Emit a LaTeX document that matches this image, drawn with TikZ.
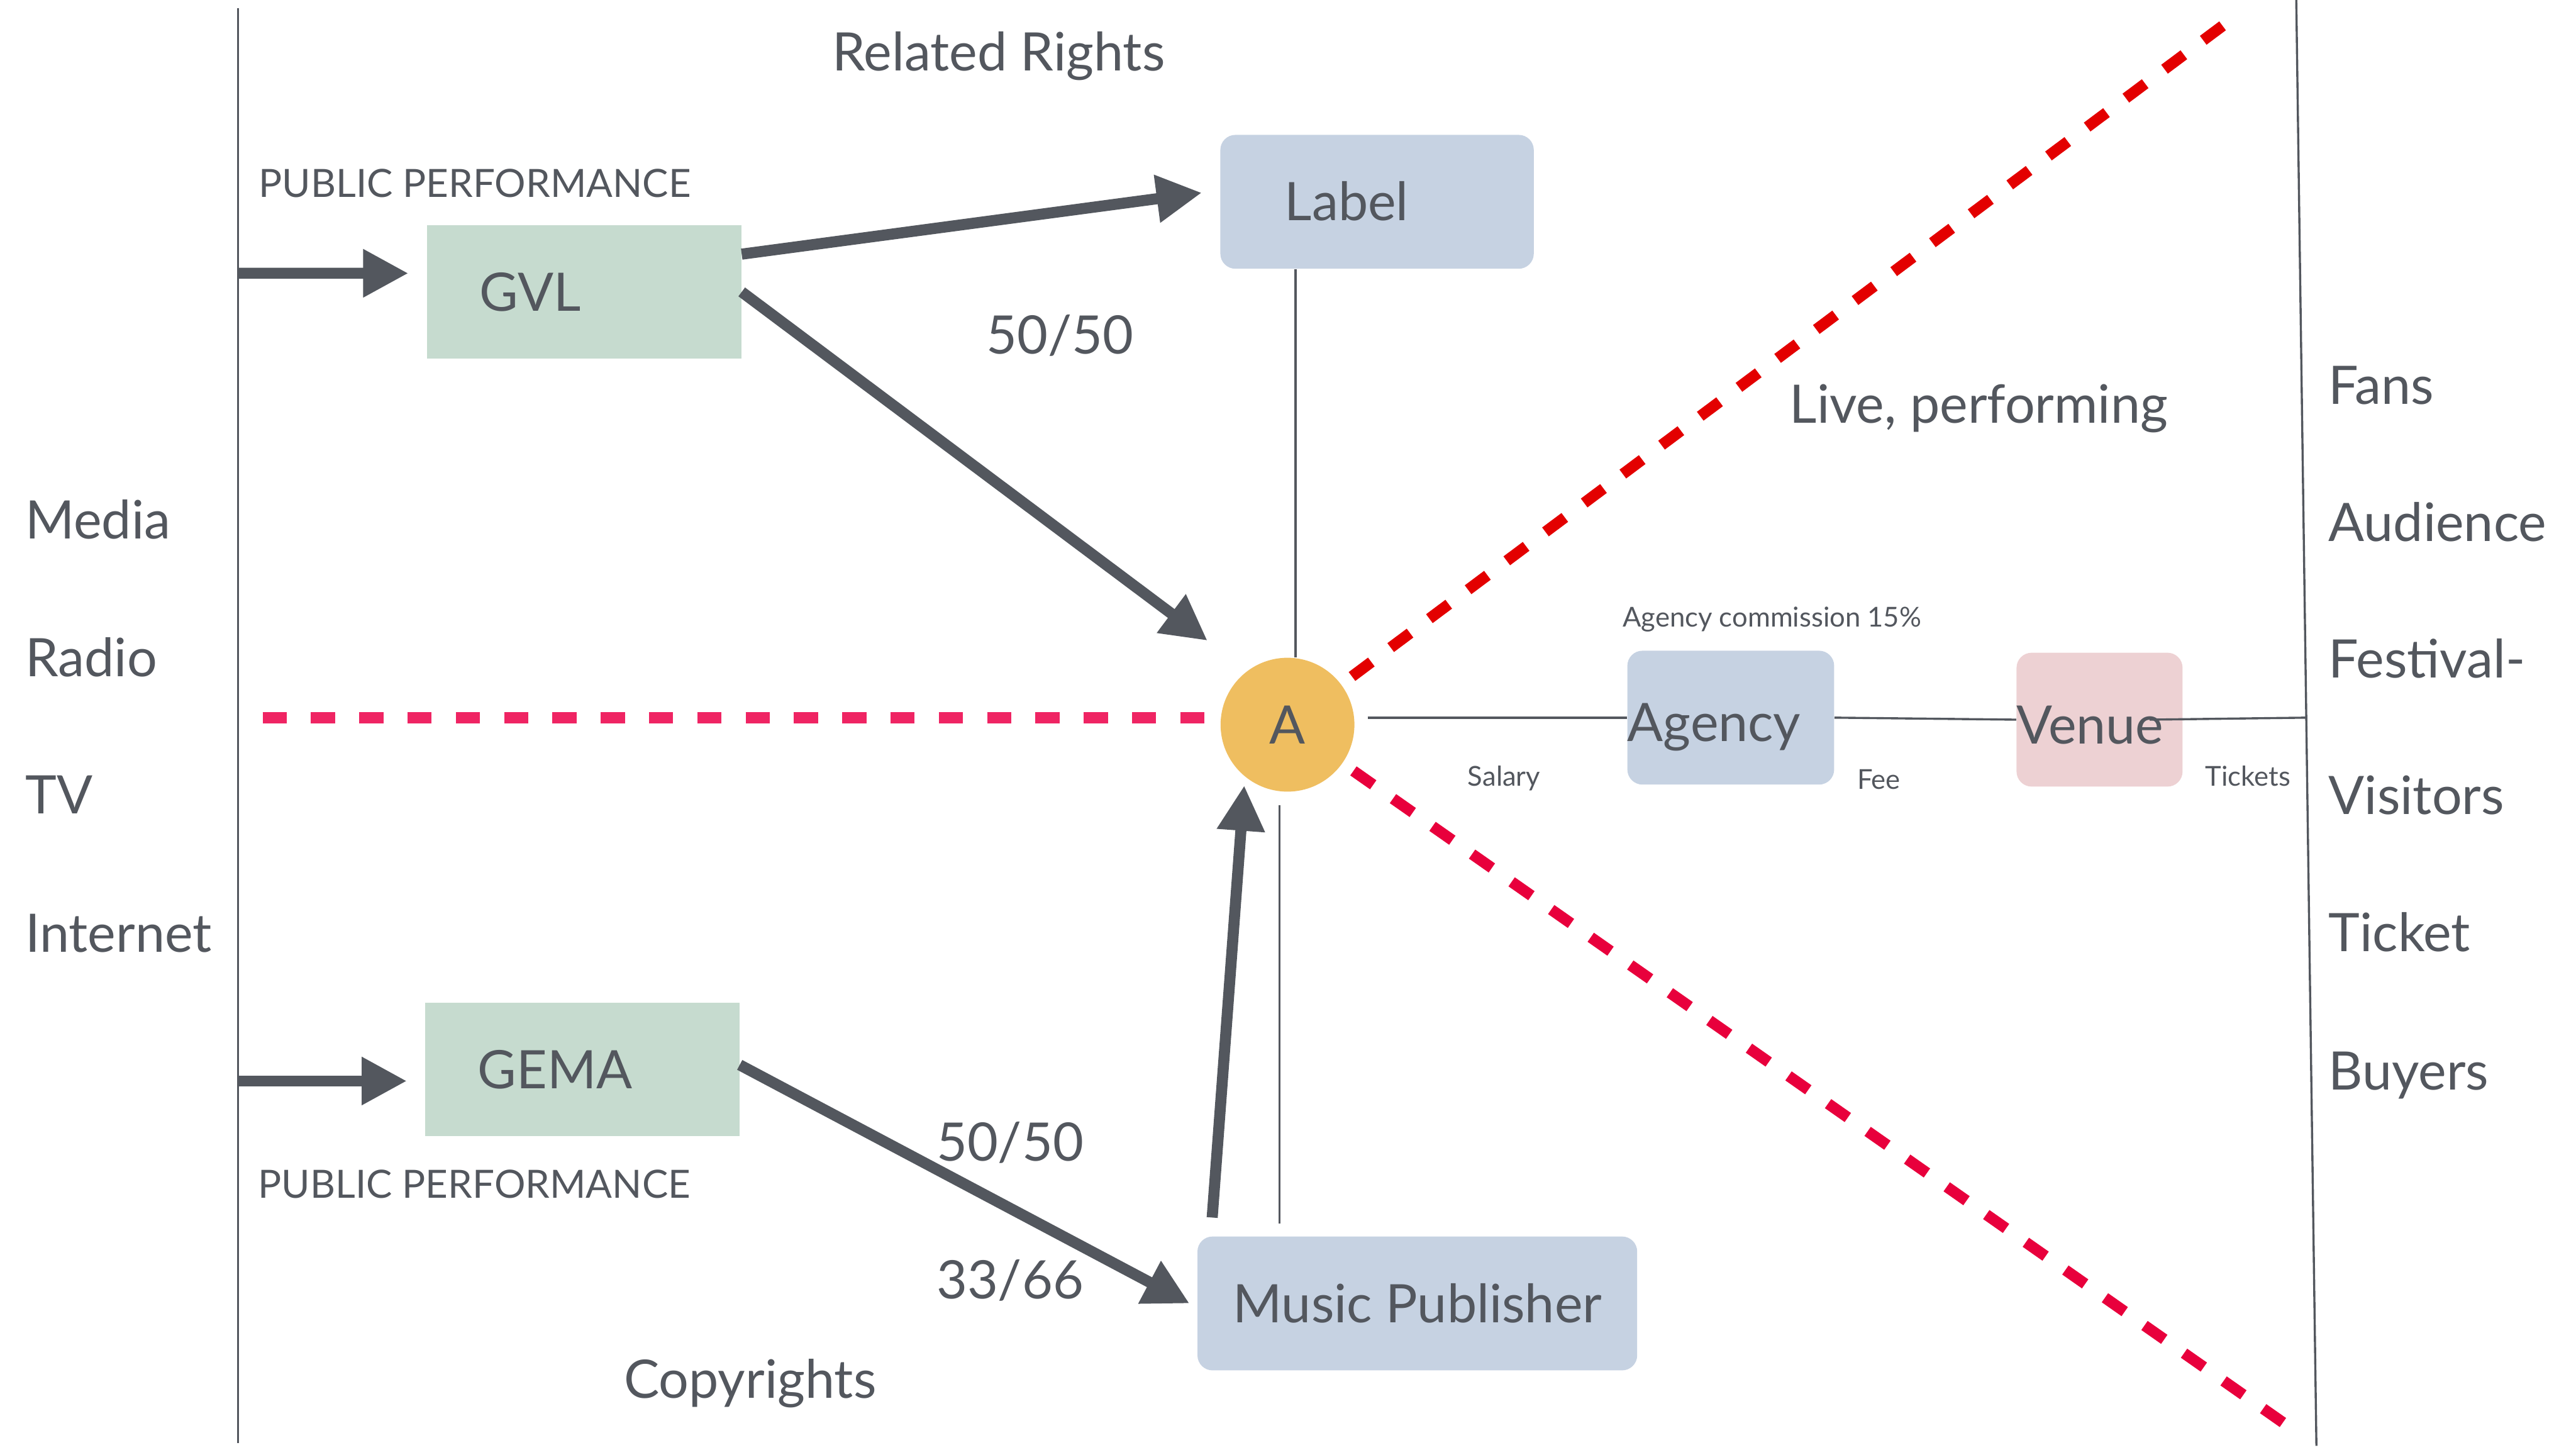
\documentclass[tikz,border=0pt]{standalone}
\usepackage{fontspec}
\setmainfont{Lato}
\usetikzlibrary{arrows.meta,positioning}
\definecolor{rightsGray}{RGB}{83,87,94}
\definecolor{rightsGreen}{RGB}{198,219,207}
\definecolor{rightsBlue}{RGB}{198,210,226}
\definecolor{rightsRose}{RGB}{237,209,211}
\definecolor{rightsGold}{RGB}{239,190,96}
\definecolor{cutPink}{RGB}{239,36,99}
\definecolor{cutRed}{RGB}{227,0,0}
\definecolor{cutCrimson}{RGB}{232,0,60}

\begin{document}
\begin{tikzpicture}[
    font=\fontsize{30}{36}\selectfont, text=rightsGray,
    society/.style={fill=rightsGreen,minimum height=2.66cm,inner xsep=1.05cm,text width=4.15cm,align=left,text height=0.75cm,text depth=0pt},
    partner/.style={fill=rightsBlue,rounded corners=0.3cm,minimum height=2.66cm,text height=0.75cm,text depth=0pt},
    artist/.style={circle,fill=rightsGold,minimum size=2.66cm,inner sep=0pt,text height=0.75cm,text depth=0pt},
    side/.style={anchor=base west,xshift=-0.14cm},
    caps/.style={side,font=\fontsize{22}{26}\selectfont},
    note/.style={side,font=\fontsize{15.5}{18}\selectfont},
    flow/.style={-{Triangle[length=9mm,width=9mm]},line width=2.2mm,draw=rightsGray},
    link/.style={line width=1.2pt,draw=rightsGray},
    cut/.style={line width=2.2mm,dash pattern=on 0.48cm off 0.48cm}
  ]
    \useasboundingbox (0,0) rectangle (51.2,-28.8);

    % borders of the field
    \coordinate (lTop) at (4.73,-0.16);
    \coordinate (lBot) at (4.73,-28.67);
    \coordinate (rTop) at (45.64,0);
    \coordinate (rBot) at (46.04,-28.73);
    \coordinate (rMid) at (45.85,-14.26);
    \coordinate (inGvl) at (4.73,-5.43);
    \coordinate (inGema) at (4.73,-21.48);
    \coordinate (cutW) at (5.22,-14.26);
    \coordinate (cutNE) at (44.34,-0.39);
    \coordinate (cutSE) at (45.38,-28.27);
    \draw[link] (lTop) -- (lBot);
    \draw[link] (rTop) -- (rBot);

    \node[society] (gvl) at (11.61,-5.80) {GVL};
    \node[society] (gema) at (11.57,-21.25) {GEMA};
    \node[partner,minimum width=6.23cm,inner xsep=1.28cm,text width=3.67cm,align=left] (label) at (27.37,-4.01) {Label};
    \node[partner,minimum width=8.74cm] (publisher) at (28.17,-25.90) {Music Publisher};
    \node[artist] (a) at (25.59,-14.40) {A};
    \node[partner,inner xsep=0pt,text width=4.11cm,align=left,text height=0.95cm] (agency) at (34.40,-14.26) {Agency};
    \node[partner,fill=rightsRose,inner xsep=0pt,text width=3.30cm,align=left,text height=0.95cm] (venue) at (41.73,-14.30) {Venue};

    % red borders of live business
    \draw[cut,draw=cutPink,shorten >=0.1cm] (cutW) -- (cutW -| a.west);
    \draw[cut,draw=cutRed,shorten <=1.6cm] (a.center) -- (cutNE);
    \draw[cut,draw=cutCrimson,shorten <=1.6cm] (a.center) -- (cutSE);

    \coordinate (labelFoot) at ([xshift=-1.62cm]label.south);
    \coordinate (pubTop) at ([xshift=-0.16cm]a.south);
    \draw[link] (labelFoot) -- (labelFoot |- a.north);
    \draw[link,shorten <=0.26cm,shorten >=0.25cm] (pubTop) -- (pubTop |- publisher.north);
    \draw[link,shorten <=0.26cm] (a.east |- agency.west) -- (agency.west);
    \draw[link] (agency.east) -- (venue.west);
    \draw[link] ([xshift=-0.66cm]venue.east) -- (rMid);

    \draw[flow] (inGvl) -- ([xshift=-0.36cm,yshift=0.37cm]gvl.west);
    \draw[flow] ([yshift=0.75cm]gvl.east) -- ([xshift=-0.36cm,yshift=0.18cm]label.west);
    \draw[flow] (gvl.east) -- ([xshift=-1.59cm,yshift=1.67cm]a.center);
    \draw[flow] (inGema) -- ([xshift=-0.35cm,yshift=-0.23cm]gema.west);
    \draw[flow] ([yshift=0.09cm]gema.east) -- ([xshift=-0.15cm]publisher.west);
    \draw[flow] ([xshift=0.30cm,yshift=0.37cm]publisher.north west) -- ([xshift=-0.86cm,yshift=0.13cm]a.south);

    \node[anchor=base] (related) at (19.85,-1.41) {Related Rights};
    \node[caps] (perfTop) at (5.16,-3.92) {PUBLIC PERFORMANCE};
    \node[caps] (perfBot) at (5.15,-23.80) {PUBLIC PERFORMANCE};
    \node[side] (copyrights) at (12.42,-27.78) {Copyrights};
    \node[side] (shareGvl) at (19.62,-7.03) {50/50};
    \node[side] (shareGema) at (18.63,-23.07) {50/50};
    \node[side] (sharePub) at (18.63,-25.80) {33/66};
    \node[side] (live) at (35.59,-8.40) {Live, performing};
    \node[note] (commission) at (32.27,-12.45) {Agency commission 15\%};
    \node[note] (salary) at (29.19,-15.62) {Salary};
    \node[note] (fee) at (36.93,-15.68) {Fee};
    \node[note] (tickets) at (43.85,-15.62) {Tickets};

    \node[side] (media) at (0.52,-10.71) {Media};
    \node[side] (radio) at (0.52,-13.44) {Radio};
    \node[side] (tv) at (0.52,-16.17) {TV};
    \node[side] (internet) at (0.52,-18.92) {Internet};

    \node[side] (fans) at (46.30,-8.03) {Fans};
    \node[side] (audience) at (46.30,-10.75) {Audience};
    \node[side] (festival) at (46.30,-13.47) {Festival-};
    \node[side] (visitors) at (46.30,-16.18) {Visitors};
    \node[side] (ticket) at (46.30,-18.90) {Ticket};
    \node[side] (buyers) at (46.30,-21.65) {Buyers};
  \end{tikzpicture}
\end{document}
